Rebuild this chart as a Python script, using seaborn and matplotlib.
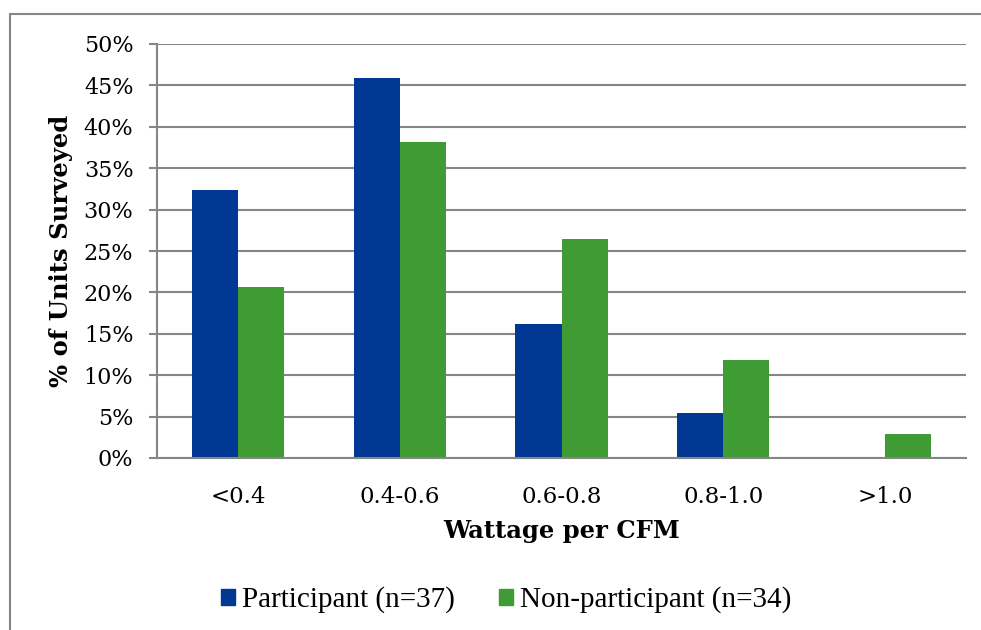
import matplotlib
matplotlib.use("Agg")
import matplotlib.pyplot as plt
import seaborn as sns
import pandas as pd
from matplotlib.patches import Rectangle
from matplotlib.lines import Line2D
from matplotlib.ticker import MultipleLocator, FuncFormatter

categories = ["<0.4", "0.4-0.6", "0.6-0.8", "0.8-1.0", ">1.0"]
participant = [32.4, 45.9, 16.2, 5.4, 0.0]
non_participant = [20.6, 38.2, 26.5, 11.8, 2.9]
series_names = ["Participant (n=37)", "Non-participant (n=34)"]
colors = ["#003893", "#3f9c35"]

df = pd.DataFrame({
    "category": categories * 2,
    "value": participant + non_participant,
    "series": [series_names[0]] * len(categories) + [series_names[1]] * len(categories),
})

sns.set_style("white")
plt.rcParams['font.family'] = ['DejaVu Serif']
plt.rcParams['text.color'] = 'black'

fig = plt.figure(figsize=(9.81, 6.30), dpi=100)
ax = fig.add_axes([157/981, 1 - 458/630, (966 - 157)/981, (458 - 44)/630])

sns.barplot(data=df, x="category", y="value", hue="series", order=categories,
            hue_order=series_names, palette=colors, width=0.57, ax=ax,
            saturation=1, edgecolor="none", linewidth=0)

ax.set_ylim(0, 50)
ax.yaxis.set_major_locator(MultipleLocator(5))
ax.yaxis.set_major_formatter(FuncFormatter(lambda v, p: f"{int(round(v))}%"))
ax.grid(axis="y", color="#868686", linewidth=1.5)
ax.set_axisbelow(True)
for s in ["top", "right"]:
    ax.spines[s].set_visible(False)
for s in ["left", "bottom"]:
    ax.spines[s].set_color("#868686")
    ax.spines[s].set_linewidth(1.5)
ax.tick_params(axis="y", which="major", length=6, color="#868686", width=1.5,
               labelsize=16, pad=11, left=True, labelcolor="black")
ax.tick_params(axis="x", length=0, labelsize=16.5, pad=20, labelcolor="black")

ax.set_xlabel("Wattage per CFM", fontsize=17.5, fontweight="bold", labelpad=8,
              family="DejaVu Serif", color="black")
ax.set_ylabel("% of Units Surveyed", fontsize=17.5, fontweight="bold", labelpad=8,
              family="DejaVu Serif", color="black")

ax.legend_.remove()
handles = [Rectangle((0, 0), 1, 1, color=c) for c in colors]
fig.legend(handles, series_names, loc="center", bbox_to_anchor=(506/981, 1 - 600/630),
           ncol=2, frameon=False, prop={"family": "Liberation Serif", "size": 21},
           handlelength=0.48, handleheight=0.48, handletextpad=0.25, columnspacing=1.5,
           labelcolor="black")

# outer frame (top and left edges visible)
fig.add_artist(Line2D([10/981, 1.2], [1 - 14/630, 1 - 14/630], transform=fig.transFigure,
                      color="#868686", linewidth=1.5))
fig.add_artist(Line2D([10/981, 10/981], [-0.2, 1 - 14/630], transform=fig.transFigure,
                      color="#868686", linewidth=1.5))

fig.savefig("out.png", dpi=100)
